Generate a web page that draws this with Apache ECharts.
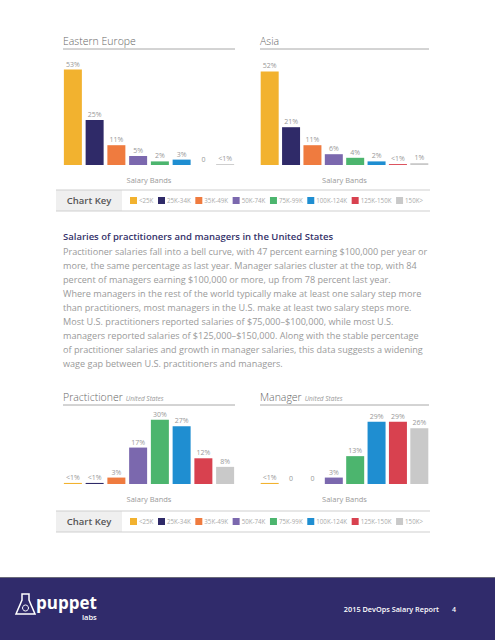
<!DOCTYPE html>
<html><head><meta charset="utf-8">
<script src="https://cdn.jsdelivr.net/npm/echarts@6/dist/echarts.min.js"></script>
<style>html,body{margin:0;padding:0;background:#fff}#c{width:495px;height:640px}</style>
</head><body><div id="c"></div>
<script>
// ---- data ----
const categories = ['<25K','25K-34K','35K-49K','50K-74K','75K-99K','100K-124K','125K-150K','150K>'];
const eeValues = [53, 25, 11, 5, 2, 3, 0, 0.5];
const eeLabels = ['53%','25%','11%','5%','2%','3%','0','<1%'];
const asiaValues = [52, 21, 11, 6, 4, 2, 0.5, 1];
const asiaLabels = ['52%','21%','11%','6%','4%','2%','<1%','1%'];
const pracValues = [0.5, 0.5, 3, 17, 30, 27, 12, 8];
const pracLabels = ['<1%','<1%','3%','17%','30%','27%','12%','8%'];
const mgrValues = [0.5, 0, 0, 3, 13, 29, 29, 26];
const mgrLabels = ['<1%','0','0','3%','13%','29%','29%','26%'];
const heading = 'Salaries of practitioners and managers in the United States';
const paragraphLines = [
  'Practitioner salaries fall into a bell curve, with 47 percent earning $100,000 per year or',
  'more, the same percentage as last year. Manager salaries cluster at the top, with 84',
  'percent of managers earning $100,000 or more, up from 78 percent last year.',
  'Where managers in the rest of the world typically make at least one salary step more',
  'than practitioners, most managers in the U.S. make at least two salary steps more.',
  'Most U.S. practitioners reported salaries of $75,000\u2013$100,000, while most U.S.',
  'managers reported salaries of $125,000\u2013$150,000. Along with the stable percentage',
  'of practitioner salaries and growth in manager salaries, this data suggests a widening',
  'wage gap between U.S. practitioners and managers.'
];

// ---- styles ----
const palette = ['#f2b22f','#2f2a68','#ef7b3f','#7b68ae','#4cb56e','#1f8ed1','#d8414f','#c9c9c9'];
const FONT = '"Open Sans", "Noto Sans", sans-serif';
const mctx = document.createElement('canvas').getContext('2d');
function tw(t, f){ mctx.font = f; return mctx.measureText(t).width; }

const panels = [
  {title:'Eastern Europe', sub:'', values:eeValues, labels:eeLabels, left:62, width:174, top:57, height:108, max:60},
  {title:'Asia', sub:'', values:asiaValues, labels:asiaLabels, left:259, width:171, top:57, height:108, max:60},
  {title:'Practictioner', sub:'United States', values:pracValues, labels:pracLabels, left:62, width:174, top:409, height:75, max:35},
  {title:'Manager', sub:'United States', values:mgrValues, labels:mgrLabels, left:259, width:171, top:409, height:75, max:35}
];

const grids=[], xAxes=[], yAxes=[], series=[], graphics=[];
panels.forEach((p,i)=>{
  grids.push({left:p.left, top:p.top, width:p.width, height:p.height});
  xAxes.push({type:'category', gridIndex:i, data:categories,
    axisLine:{show:false}, axisTick:{show:false}, axisLabel:{show:false},
    name:'Salary Bands', nameLocation:'middle', nameGap:11,
    nameTextStyle:{fontSize:7.5, color:'#9a9a9a', fontFamily:FONT}});
  yAxes.push({type:'value', gridIndex:i, min:0, max:p.max, show:false, splitLine:{show:false}});
  series.push({type:'bar', xAxisIndex:i, yAxisIndex:i, barWidth:18,
    data:p.values.map((v,j)=>({value:v, itemStyle:{color:palette[j]}})),
    label:{show:true, position:'top', distance:2, fontSize:7, color:'#999', fontFamily:FONT,
      formatter:(q)=>p.labels[q.dataIndex]},
    silent:true, animation:false});
  const ty = p.top < 200 ? 41 : 397;
  const tf = '300 10.5px ' + FONT;
  graphics.push({type:'text', x:p.left+1, y:ty, style:{text:p.title, font:tf, fill:'#666', verticalAlign:'middle'}});
  if(p.sub){
    graphics.push({type:'text', x:p.left+1+tw(p.title,tf)+3, y:ty+1, style:{text:p.sub, font:'italic 6.5px '+FONT, fill:'#999', verticalAlign:'middle'}});
  }
  const ly = ty + 8;
  graphics.push({type:'line', shape:{x1:p.left+1, y1:ly, x2:p.left+p.width-1, y2:ly}, style:{stroke:'#a8a8a8', lineWidth:1}});
});

function chartKey(y){
  graphics.push({type:'rect', shape:{x:56, y:y, width:66, height:21}, style:{fill:'#efefef'}});
  graphics.push({type:'line', shape:{x1:56, y1:y, x2:430, y2:y}, style:{stroke:'#cfcfcf', lineWidth:1}});
  graphics.push({type:'line', shape:{x1:56, y1:y+21, x2:430, y2:y+21}, style:{stroke:'#cfcfcf', lineWidth:1}});
  graphics.push({type:'text', x:89, y:y+10.5, style:{text:'Chart Key', font:'600 9.5px '+FONT, fill:'#555', align:'center', verticalAlign:'middle'}});
  const lf = '6.2px ' + FONT;
  const widths = categories.map(c=>tw(c,lf));
  const sum = widths.reduce((a,b)=>a+b,0) + categories.length*9;
  const gap = Math.max(3, (423 - 130 - sum)/(categories.length-1));
  let x = 130;
  categories.forEach((c,j)=>{
    graphics.push({type:'rect', shape:{x:x, y:y+7, width:7, height:7}, style:{fill:palette[j]}});
    graphics.push({type:'text', x:x+9, y:y+10.5, style:{text:c, font:lf, fill:'#aaa', verticalAlign:'middle'}});
    x += 9 + widths[j] + gap;
  });
}
chartKey(190);
chartKey(511);

graphics.push({type:'text', x:63, y:236, style:{text:heading, font:'600 9.5px '+FONT, fill:'#35326a', verticalAlign:'middle'}});
paragraphLines.forEach((t,i)=>{
  graphics.push({type:'text', x:63, y:251+i*14, style:{text:t, font:'9.1px '+FONT, fill:'#9a9a9a', verticalAlign:'middle'}});
});

// footer
graphics.push({type:'rect', shape:{x:0, y:577, width:495, height:63}, style:{fill:'#302b6b'}});
graphics.push({type:'line', shape:{x1:0, y1:577.5, x2:495, y2:577.5}, style:{stroke:'#6a6a7a', lineWidth:1}});
graphics.push({type:'polygon', shape:{points:[[22,594],[29,594],[29,600],[35,614],[16,614],[22,600]]}, style:{fill:'none', stroke:'#fff', lineWidth:1.5}});
graphics.push({type:'circle', shape:{cx:25.5, cy:608, r:3}, style:{fill:'none', stroke:'#fff', lineWidth:1}});
graphics.push({type:'text', x:36, y:602, style:{text:'puppet', font:'bold 17px '+FONT, fill:'#fff', verticalAlign:'middle'}});
graphics.push({type:'text', x:82, y:617, style:{text:'labs', font:'600 7.5px '+FONT, fill:'#fff', verticalAlign:'middle'}});
graphics.push({type:'text', x:439, y:609, style:{text:'2015 DevOps Salary Report', font:'600 7.3px '+FONT, fill:'#fff', align:'right', verticalAlign:'middle'}});
graphics.push({type:'text', x:454, y:609, style:{text:'4', font:'600 7px '+FONT, fill:'#fff', align:'center', verticalAlign:'middle'}});

const chart = echarts.init(document.getElementById('c'), null, {renderer:'svg'});
chart.setOption({
  backgroundColor:'#fff', animation:false,
  grid:grids, xAxis:xAxes, yAxis:yAxes, series:series, graphic:graphics
});
</script></body></html>
